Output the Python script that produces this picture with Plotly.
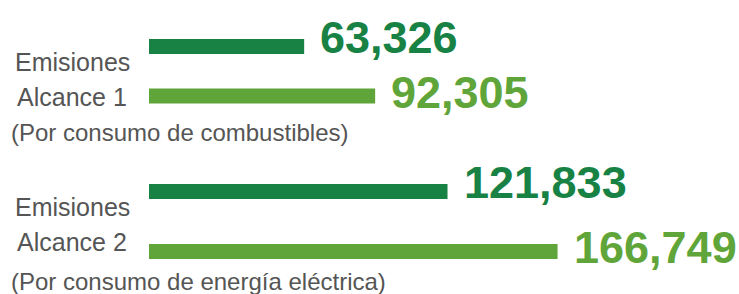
import plotly.graph_objects as go

# Data
groups = ["Alcance 1", "Alcance 2"]
group_notes = ["(Por consumo de combustibles)", "(Por consumo de energía eléctrica)"]
bar_keys = ["serie_a", "serie_b"]
dark_values = [63326, 121833]
light_values = [92305, 166749]

DARK = "#178244"
LIGHT = "#5fa53a"
GRAY = "#555555"
NUM_FONT = "Liberation Sans, Arial, sans-serif"
TXT_FONT = "Liberation Sans, Arial, Helvetica, sans-serif"

W, H = 739, 294
ML = 149
PW = W - ML
XMAX = 240800

fig = go.Figure()

# pixel layout for the two groups (top, bottom in px from top), bar thickness
group_px = [(21.75, 120.75), (161.5, 281.5)]
bar_px = 15
label_lift = [9, 4]

for i, g in enumerate(groups):
    yref = "y" if i == 0 else "y2"
    fig.add_trace(go.Bar(
        x=[dark_values[i], light_values[i]],
        y=bar_keys,
        orientation="h",
        marker=dict(color=[DARK, LIGHT], line=dict(width=0)),
        width=bar_px / ((group_px[i][1] - group_px[i][0]) / 2),
        yaxis=yref,
        xaxis="x",
        hoverinfo="skip",
        showlegend=False,
    ))
    for j, (v, c) in enumerate(zip([dark_values[i], light_values[i]], [DARK, LIGHT])):
        fig.add_annotation(
            x=v, y=bar_keys[j], xref="x", yref=yref,
            text=f"{v:,}", showarrow=False,
            xanchor="left", yanchor="middle", xshift=14, yshift=label_lift[j],
            font=dict(family=NUM_FONT, size=45, color=c, weight="bold"),
        )

def pfx(px):
    return (px - ML) / PW

def pfy(px):
    return 1 - px / H

# left labels
label_rows = [
    (62.5, 97, 133),
    (207, 242, 281),
]
for i, g in enumerate(groups):
    r = label_rows[i]
    fig.add_annotation(x=pfx(72), y=pfy(r[0]), xref="paper", yref="paper",
                       text="Emisiones", showarrow=False, xanchor="center", yanchor="middle",
                       font=dict(family=TXT_FONT, size=25, color=GRAY))
    fig.add_annotation(x=pfx(72), y=pfy(r[1]), xref="paper", yref="paper",
                       text=g, showarrow=False, xanchor="center", yanchor="middle",
                       font=dict(family=TXT_FONT, size=25, color=GRAY))
    fig.add_annotation(x=pfx(9), y=pfy(r[2]), xref="paper", yref="paper",
                       text=group_notes[i], showarrow=False, xanchor="left", yanchor="middle",
                       font=dict(family=TXT_FONT, size=24, color=GRAY))

fig.update_layout(
    width=W, height=H,
    margin=dict(l=ML, r=0, t=0, b=0),
    paper_bgcolor="white", plot_bgcolor="white",
    xaxis=dict(range=[0, XMAX], visible=False, fixedrange=True),
    yaxis=dict(domain=[pfy(group_px[0][1]), pfy(group_px[0][0])], range=[1.5, -0.5],
               type="category", visible=False, fixedrange=True),
    yaxis2=dict(domain=[pfy(group_px[1][1]), pfy(group_px[1][0])], range=[1.5, -0.5],
                type="category", visible=False, fixedrange=True, anchor="x"),
)

fig.write_html("out.html", config={"displayModeBar": False},
               post_script="document.body.style.margin='0';document.body.style.overflow='hidden';")
